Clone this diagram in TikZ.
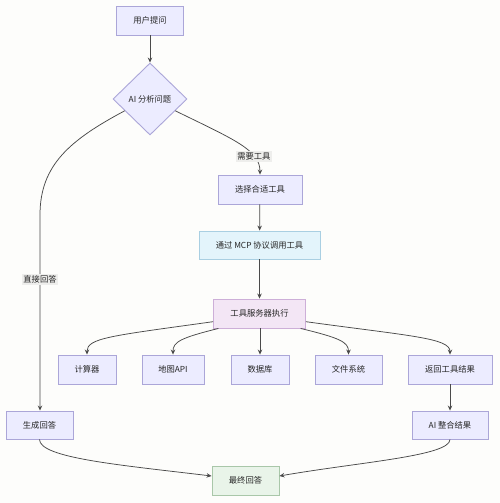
\documentclass[tikz,border=0pt]{standalone}
\usepackage{fontspec}
\setmainfont{Noto Sans CJK SC}
\usetikzlibrary{shapes.geometric,arrows.meta}
\definecolor{bgc}{HTML}{FDFDFB}
\definecolor{boxf}{HTML}{ECECFF}
\definecolor{boxd}{HTML}{ABA6D8}
\definecolor{mcpf}{HTML}{E3F4FB}
\definecolor{mcpd}{HTML}{A9CFE2}
\definecolor{srvf}{HTML}{F3E6F5}
\definecolor{srvd}{HTML}{CDAFD8}
\definecolor{finf}{HTML}{E9F4E9}
\definecolor{find}{HTML}{A9C7A9}
\definecolor{edgec}{HTML}{4A4A4A}
\definecolor{lblf}{HTML}{EEEEEC}
\tikzset{
  box/.style={draw=boxd, fill=boxf, line width=0.9pt, minimum height=29pt, inner sep=0pt,
    font=\fontsize{8.3}{10}\selectfont, text=black!85},
  mcpbox/.style={box, draw=mcpd, fill=mcpf},
  srvbox/.style={box, draw=srvd, fill=srvf},
  finbox/.style={box, draw=find, fill=finf},
  dia/.style={diamond, draw=boxd, fill=boxf, line width=0.9pt, minimum width=74pt, minimum height=72pt,
    inner sep=0pt, font=\fontsize{8.3}{10}\selectfont, text=black!85},
  conn/.style={draw=edgec, line width=0.75pt, -{Stealth[length=5pt,width=4.5pt]}},
  lbl/.style={fill=lblf, inner sep=1.5pt, font=\fontsize{8.3}{10}\selectfont, text=black!85}
}
\begin{document}
\begin{tikzpicture}[x=1pt,y=-1pt]
\fill[bgc] (0,0) rectangle (500,503);
\useasboundingbox (0,0) rectangle (500,503);

\node[box, minimum width=67pt] (ask) at (150,20.5) {用户提问};
\node[dia] (ai) at (150,99) {AI 分析问题};
\node[box, minimum width=84pt] (sel) at (260,189.5) {选择合适工具};
\node[mcpbox, minimum width=121pt, minimum height=28pt] (mcp) at (259.5,245) {通过 MCP 协议调用工具};
\node[srvbox, minimum width=92pt] (srv) at (259.5,313.5) {工具服务器执行};
\node[box, minimum width=58pt] (calc) at (87,369.5) {计算器};
\node[box, minimum width=62pt] (map) at (173,369.5) {地图API};
\node[box, minimum width=58pt] (db) at (260,369.5) {数据库};
\node[box, minimum width=67pt] (fs) at (348.5,369.5) {文件系统};
\node[box, minimum width=84pt] (ret) at (450,369.5) {返回工具结果};
\node[box, minimum width=76pt, minimum height=28pt] (merge) at (450,425) {AI 整合结果};
\node[box, minimum width=67pt, minimum height=28pt] (gen) at (39.5,425) {生成回答};
\node[finbox, minimum width=67pt] (fin) at (245.5,480.5) {最终回答};

\draw[conn] (ask) -- (ai);
\draw[conn] (ai.205) .. controls (70,140) and (40,165) .. (40,215) -- (gen.north -| 40,0)
  node[pos=0.33, lbl] {直接回答};
\draw[conn] (ai.335) .. controls (235,140) and (260,150) .. (sel.north)
  node[pos=0.72, lbl] {需要工具};
\draw[conn] (sel) -- (mcp);
\draw[conn] (mcp) -- (srv);
\draw[conn] (srv.190) .. controls (110,336) and (87,338) .. (calc.north);
\draw[conn] (srv.200) .. controls (180,338) and (173,342) .. (map.north);
\draw[conn] (srv.south -| db.north) -- (db.north);
\draw[conn] (srv.340) .. controls (340,338) and (348.5,342) .. (fs.north);
\draw[conn] (srv.350) .. controls (410,336) and (450,338) .. (ret.north);
\draw[conn] (ret) -- (merge);
\draw[conn] (gen.south) .. controls (39.5,458) and (120,465) .. (fin.west |- 0,476);
\draw[conn] (merge.south) .. controls (450,456) and (360,462) .. (fin.east |- 0,476);
\end{tikzpicture}
\end{document}
